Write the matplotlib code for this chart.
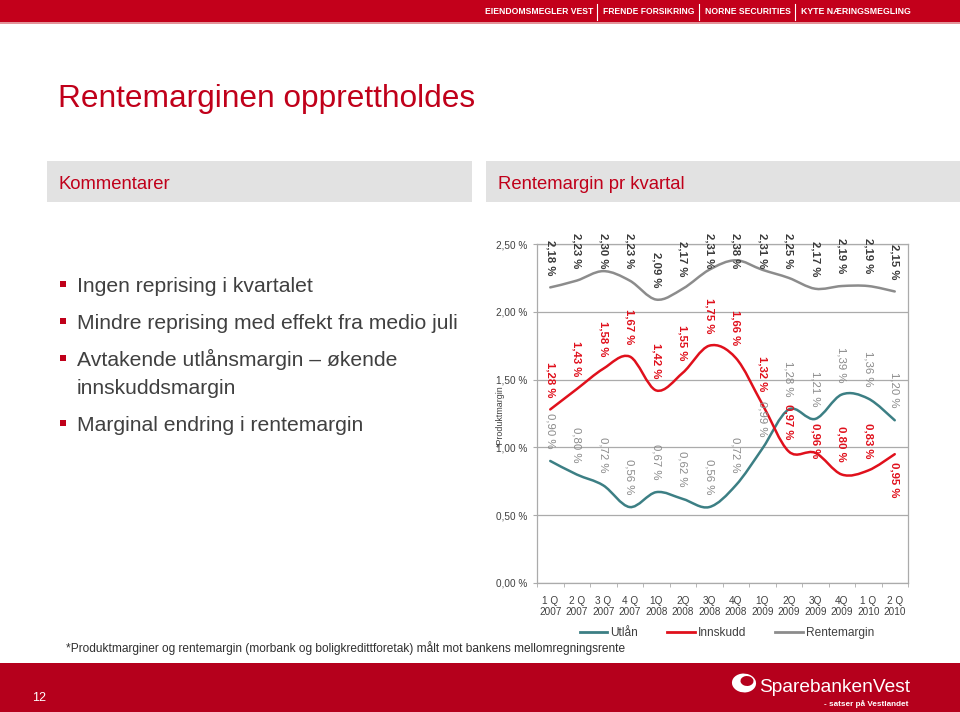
import matplotlib
matplotlib.use('Agg')
import matplotlib.pyplot as plt
from matplotlib.path import Path
from matplotlib.patches import PathPatch, Rectangle, Ellipse
from matplotlib.lines import Line2D
from matplotlib import font_manager as fm

# ---------------- data ----------------
quarters = ["1 Q\n2007", "2 Q\n2007", "3 Q\n2007", "4 Q\n2007", "1Q\n2008", "2Q\n2008",
            "3Q\n2008", "4Q\n2008", "1Q\n2009", "2Q\n2009", "3Q\n2009", "4Q\n2009",
            "1 Q\n2010", "2 Q\n2010"]
utlan = [0.90, 0.80, 0.72, 0.56, 0.67, 0.62, 0.56, 0.72, 0.99, 1.28, 1.21, 1.39, 1.36, 1.20]
innskudd = [1.28, 1.43, 1.58, 1.67, 1.42, 1.55, 1.75, 1.66, 1.32, 0.97, 0.96, 0.80, 0.83, 0.95]
rentemargin = [2.18, 2.23, 2.30, 2.23, 2.09, 2.17, 2.31, 2.38, 2.31, 2.25, 2.17, 2.19, 2.19, 2.15]
series_names = ["Utlån", "Innskudd", "Rentemargin"]
yticks = [0.0, 0.5, 1.0, 1.5, 2.0, 2.5]

bullets = [["Ingen reprising i kvartalet"],
           ["Mindre reprising med effekt fra medio juli"],
           ["Avtakende utlånsmargin – økende", "innskuddsmargin"],
           ["Marginal endring i rentemargin"]]
header_items = ["EIENDOMSMEGLER VEST", "FRENDE FORSIKRING", "NORNE SECURITIES", "KYTE NÆRINGSMEGLING"]

# ---------------- styling ----------------
W, H = 960, 712
RED = '#C0001A'
TXT = '#404040'
C_UT = '#3C7F84'
C_IN = '#E0101C'
C_RM = '#8C8C8C'
GRID = '#ABABAB'

plt.rcParams['font.family'] = ['Liberation Sans', 'DejaVu Sans']


def has_font(name):
    try:
        fm.findfont(fm.FontProperties(family=name), fallback_to_default=False)
        return True
    except Exception:
        return False


NARROW = ['Liberation Sans Narrow', 'Liberation Sans'] if has_font('Liberation Sans Narrow') else ['Liberation Sans', 'DejaVu Sans']

fig = plt.figure(figsize=(9.6, 7.12), dpi=100)
fig.patch.set_facecolor('white')
renderer = fig.canvas.get_renderer()


def fx(x):
    return x / W


def fy(y):
    return 1 - y / H


def rect(x0, y0, x1, y1, color, z=0):
    fig.add_artist(Rectangle((fx(x0), fy(y1)), (x1 - x0) / W, (y1 - y0) / H,
                             transform=fig.transFigure, facecolor=color, edgecolor='none', zorder=z))


def fit(t, width):
    bb = t.get_window_extent(renderer)
    t.set_fontsize(t.get_fontsize() * width / bb.width)
    return t


# header bar
rect(0, 0, W, 22, '#C3001B')
rect(0, 22, W, 24, '#E3949A')
hx = [(485, 593), (603, 694), (705, 790), (801, 911)]
for (a, b), s in zip(hx, header_items):
    t = fig.text(fx(a), fy(12), s, color='white', fontsize=8, fontweight='bold',
                 family=NARROW, ha='left', va='center')
    fit(t, b - a)
for sx in [597, 699, 795]:
    fig.add_artist(Line2D([fx(sx), fx(sx)], [fy(4), fy(20)], color='white', lw=0.8,
                          transform=fig.transFigure))

# title
fig.text(fx(58), fy(107), "Rentemarginen opprettholdes", color=RED, fontsize=22.8,
         ha='left', va='baseline')

# section boxes
rect(47, 161, 472, 202, '#E2E2E2')
rect(486, 161, 960, 202, '#E2E2E2')
fig.text(fx(58), fy(189), "Kommentarer", color=RED, fontsize=13.3, ha='left', va='baseline')
fig.text(fx(498), fy(189), "Rentemargin pr kvartal", color=RED, fontsize=13.3, ha='left', va='baseline')

# bullets
baselines = [292, 329, 366, 431]
for lines, b in zip(bullets, baselines):
    for k, s in enumerate(lines):
        fig.text(fx(77), fy(b + 28.5 * k), s, color=TXT, fontsize=15.2, ha='left', va='baseline')
    rect(60, b - 11, 66, b - 5, '#C0001A', z=2)

# footnote
t = fig.text(fx(66), fy(652), "*Produktmarginer og rentemargin (morbank og boligkredittforetak) målt mot bankens mellomregningsrente",
             color='#303030', fontsize=8, family=NARROW, ha='left', va='baseline')
fit(t, 564)

# footer
rect(0, 663, W, H, '#B5001C')
fig.text(fx(32), fy(698), "12", color='white', fontsize=9, ha='left', va='center')
t = fig.text(fx(759), fy(692), "SparebankenVest", color='white', fontsize=14, ha='left', va='baseline')
fit(t, 152)
t = fig.text(fx(908), fy(706), "- satser på Vestlandet", color='white', fontsize=7,
             fontweight='bold', family=NARROW, ha='right', va='baseline')
fit(t, 84)
fig.add_artist(Ellipse((fx(744), fy(683)), 24 / W, 19 / H, angle=15, transform=fig.transFigure,
                       facecolor='white', edgecolor='none', zorder=3))
fig.add_artist(Ellipse((fx(747), fy(681)), 13 / W, 10 / H, angle=15, transform=fig.transFigure,
                       facecolor='#B5001C', edgecolor='none', zorder=4))

# ---------------- chart ----------------
ax = fig.add_axes([fx(537), fy(583), (908 - 537) / W, (583 - 244) / H])
ax.set_xlim(-0.5, len(quarters) - 0.5)
ax.set_ylim(0, 2.5)
ax.set_facecolor('none')
for sp in ax.spines.values():
    sp.set_color(GRID)
    sp.set_linewidth(0.9)
ax.set_yticks(yticks)
ax.set_yticklabels([f"{v:.2f}".replace('.', ',') + " %" for v in yticks])
ax.yaxis.grid(True, color=GRID, lw=0.9)
ax.set_axisbelow(True)
ax.tick_params(axis='y', length=3, color=GRID, labelsize=7.2, labelcolor=TXT, pad=4)
xs = list(range(len(quarters)))
ax.set_xticks(xs)
ax.set_xticklabels(quarters, linespacing=1.15)
ax.set_xticks([i - 0.5 for i in range(len(quarters) + 1)], minor=True)
ax.tick_params(axis='x', which='major', length=0, labelsize=7.2, labelcolor=TXT, pad=9)
ax.tick_params(axis='x', which='minor', length=3, color=GRID)

fig.text(fx(500), fy(416), "*Produktmargin", rotation=90, fontsize=6.4, color=TXT,
         ha='center', va='center')


def smooth_path(xv, yv):
    n = len(xv)
    verts = [(xv[0], yv[0])]
    codes = [Path.MOVETO]
    for i in range(n - 1):
        p0 = i - 1 if i > 0 else i
        p3 = i + 2 if i + 2 < n else i + 1
        c1 = (xv[i] + (xv[i + 1] - xv[p0]) / 6, yv[i] + (yv[i + 1] - yv[p0]) / 6)
        c2 = (xv[i + 1] - (xv[p3] - xv[i]) / 6, yv[i + 1] - (yv[p3] - yv[i]) / 6)
        verts += [c1, c2, (xv[i + 1], yv[i + 1])]
        codes += [Path.CURVE4] * 3
    return Path(verts, codes)


series = [(utlan, C_UT), (innskudd, C_IN), (rentemargin, C_RM)]
for vals, col in series:
    ax.add_patch(PathPatch(smooth_path(xs, vals), facecolor='none', edgecolor=col, lw=1.8,
                           zorder=3, capstyle='round'))

label_styles = [
    (utlan, '#8A8A8A', 'normal', {}),
    (innskudd, '#E0101C', 'bold', {10: ('bottom', -5), 13: ('top', -8)}),
    (rentemargin, '#3A3A3A', 'bold', {}),
]
top_cap = H - 233  # display y of highest label top
for vals, col, wt, over in label_styles:
    for i, v in enumerate(vals):
        s = f"{v:.2f}".replace('.', ',') + " %"
        va, off = over.get(i, ('bottom', 12.5))
        a = ax.annotate(s, (i, v), xytext=(0, off), textcoords='offset pixels', rotation=270,
                        ha='center', va=va, fontsize=8.2, fontweight=wt, color=col, zorder=5,
                        annotation_clip=False)
        if i not in over:
            bb = a.get_window_extent(renderer)
            if bb.y1 > top_cap:
                py = ax.transData.transform((i, v))[1]
                a.set_va('top')
                a.xyann = (0, top_cap - py)

handles = [Line2D([], [], color=c, lw=2) for _, c in series]
fig.legend(handles, series_names, loc='center', bbox_to_anchor=(fx(727), fy(633)), ncol=3,
           frameon=False, fontsize=8.6, handlelength=2.3, handletextpad=0.3, columnspacing=2.4,
           labelcolor=TXT)

fig.savefig('out.png', dpi=100, facecolor='white')
